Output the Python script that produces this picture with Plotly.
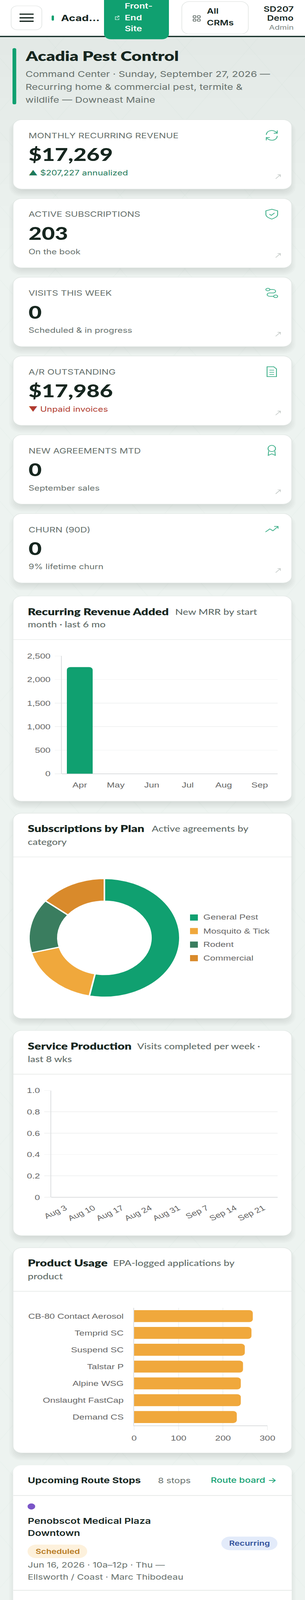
import plotly.graph_objects as go

W, H = 780, 5200

# ---------- data ----------
mrr_months = ["Apr", "May", "Jun", "Jul", "Aug", "Sep"]
mrr_values = [2265, 0, 0, 0, 0, 0]
plan_names = ["General Pest", "Mosquito & Tick", "Rodent", "Commercial"]
plan_counts = [108, 36, 30, 29]
plan_colors = ["#10a070", "#f0a83c", "#3a7d5f", "#d98a2b"]
week_labels = ["Aug 3", "Aug 10", "Aug 17", "Aug 24", "Aug 31", "Sep 7", "Sep 14", "Sep 21"]
week_values = [0, 0, 0, 0, 0, 0, 0, 0]
product_names = ["CB-80 Contact Aerosol", "Temprid SC", "Suspend SC", "Talstar P", "Alpine WSG", "Onslaught FastCap", "Demand CS"]
product_values = [267, 264, 249, 245, 240, 240, 231]
kpi_labels = ["MONTHLY RECURRING REVENUE", "ACTIVE SUBSCRIPTIONS", "VISITS THIS WEEK", "A/R OUTSTANDING", "NEW AGREEMENTS MTD", "CHURN (90D)"]
kpi_values = ["$17,269", "203", "0", "$17,986", "0", "0"]
kpi_notes = ["▲ $207,227 annualized", "On the book", "Scheduled & in progress", "▼ Unpaid invoices", "September sales", "9% lifetime churn"]
kpi_note_colors = ["#1f7a5a", "#66706c", "#66706c", "#b03a2e", "#66706c", "#66706c"]

# ---------- helpers ----------
BODY = "Inter, sans-serif"
HEAD = "Lato, sans-serif"
CHART = "Liberation Sans, Arial, sans-serif"
shapes, annos = [], []

def fx(x): return round(x / W, 6)
def fy(y): return round(1 - y / H, 6)

def path_of(cmds):
    out = []
    for c in cmds:
        if isinstance(c, str):
            out.append(c)
        else:
            out.append(f"{fx(c[0])},{fy(c[1])}")
    return " ".join(out)

def shape(cmds, fill=None, line=None, width=0, layer="below"):
    s = dict(type="path", path=path_of(cmds), xref="paper", yref="paper", layer=layer,
             line=dict(width=width, color=line or "rgba(0,0,0,0)"))
    if fill:
        s["fillcolor"] = fill
    shapes.append(s)

def rect(x0, y0, x1, y1, fill):
    shape(["M", (x0, y0), "L", (x1, y0), "L", (x1, y1), "L", (x0, y1), "Z"], fill)

def rrect(x0, y0, x1, y1, r, fill=None, line=None, width=0, layer="below"):
    k = 0.45 * r
    cmds = ["M", (x0 + r, y0), "L", (x1 - r, y0), "C", (x1 - k, y0), (x1, y0 + k), (x1, y0 + r),
            "L", (x1, y1 - r), "C", (x1, y1 - k), (x1 - k, y1), (x1 - r, y1),
            "L", (x0 + r, y1), "C", (x0 + k, y1), (x0, y1 - k), (x0, y1 - r),
            "L", (x0, y0 + r), "C", (x0, y0 + k), (x0 + k, y0), (x0 + r, y0), "Z"]
    shape(cmds, fill, line, width, layer)

def toprect(x0, y0, x1, y1, r, fill, line=None, width=0):
    k = 0.45 * r
    shape(["M", (x0, y1), "L", (x0, y0 + r), "C", (x0, y0 + k), (x0 + k, y0), (x0 + r, y0), "L", (x1 - r, y0),
           "C", (x1 - k, y0), (x1, y0 + k), (x1, y0 + r), "L", (x1, y1), "Z"], fill, line, width)

def seg(x0, y0, x1, y1, color, width=1, layer="below"):
    shape(["M", (x0, y0), "L", (x1, y1)], None, color, width, layer)

def txt(x, y, text, size, color, family=BODY, weight=400, anchor="left"):
    annos.append(dict(x=fx(x), y=fy(y), xref="paper", yref="paper", text=text, showarrow=False,
                      xanchor=anchor, yanchor="middle", borderpad=0, borderwidth=0,
                      font=dict(size=size, color=color, family=family, weight=weight)))

def card(x0, y0, x1, y1, r=22):
    for e in (-10, -6, -2, 2, 6, 10):
        rrect(x0 - e, y0 + 14 - e, x1 + e, y1 + 14 + e, r + max(e, 0), "rgba(40,70,60,0.018)")
    rrect(x0, y0, x1, y1, r, "#ffffff", "#dfe5e2", 1.5)

# ---------- page background band near the top ----------
for i in range(10):
    rect(0, 120, 780, 180 + i * 70, "rgba(30,110,85,0.005)")

# ---------- background lattice, clipped to the page ----------
LAT = "rgba(60,110,90,0.025)"
slope, step = 1.45, 240
c = 120 - 780 * slope
while c < H:
    xa = max(0.0, (120 - c) / slope)
    xb = min(780.0, (H - c) / slope)
    if xb > xa:
        seg(xa, c + slope * xa, xb, c + slope * xb, LAT, 1.5)
        seg(780 - xa, c + slope * xa, 780 - xb, c + slope * xb, LAT, 1.5)
    c += step

# ---------- header ----------
rect(0, 0, 780, 117, "#ffffff")
rect(0, 116.5, 780, 120.5, "#16302a")
rrect(28.5, 19, 107, 97, 16, "#ffffff", "#dfe3e1", 1.5)
for y in (46, 58, 69):
    seg(50, y, 86, y, "#16261f", 4)
rrect(132, 50, 138, 67, 3, "#10a070")
txt(156, 58, "Acad...", 28, "#16261f", BODY, 700)
shape(["M", (266, 0), "L", (432, 0), "L", (432, 110), "C", (432, 120), (424, 127.5), (414, 127.5),
       "L", (284, 127.5), "C", (274, 127.5), (266, 120), (266, 110), "Z"], "#10a070")
txt(319, 19, "Front-", 24, "#ffffff", BODY, 600)
txt(319, 57, "End", 24, "#ffffff", BODY, 600)
txt(319, 93, "Site", 24, "#ffffff", BODY, 600)
shape(["M", (300, 54), "L", (295, 54), "L", (295, 64), "L", (304, 64), "L", (304, 59)], None, "#d8f2e8", 1.5)
shape(["M", (299, 59), "L", (304, 52), "M", (300, 52), "L", (304.5, 52), "L", (304.5, 56)], None, "#d8f2e8", 1.5)
rrect(465, 5, 635, 111, 20, "#ffffff", "#dfe3e1", 1.5)
for gx in (494, 505):
    for gy in (51, 62):
        rrect(gx, gy, gx + 7, gy + 7, 1.5, None, "#3a4843", 1.6)
txt(529, 37, "All", 24, "#16261f", BODY, 600)
txt(529, 75, "CRMs", 24, "#16261f", BODY, 600)
txt(751, 29, "SD207", 24, "#16261f", BODY, 600, "right")
txt(751, 59, "Demo", 24, "#16261f", BODY, 600, "right")
txt(751, 88.5, "Admin", 21, "#7a8480", BODY, 400, "right")

# ---------- page title ----------
rrect(32, 156.5, 41.5, 339, 4, "#10a070")
txt(65, 181, "Acadia Pest Control", 44, "#16261f", HEAD, 800)
txt(65, 240, "Command Center · Sunday, September 27, 2026 —", 26, "#66706c")
txt(65, 282, "Recurring home & commercial pest, termite &", 26, "#66706c")
txt(65, 324, "wildlife — Downeast Maine", 26, "#66706c")

# ---------- KPI cards ----------
ICON = "#3fb08a"
def icon(i, cx, cy):
    if i == 0:  # refresh
        shape(["M", (cx - 14, cy - 2), "C", (cx - 13, cy - 18), (cx + 6, cy - 20), (cx + 13, cy - 8)], None, ICON, 2.2)
        shape(["M", (cx + 14, cy - 16), "L", (cx + 14, cy - 7), "L", (cx + 5, cy - 7)], None, ICON, 2.2)
        shape(["M", (cx + 14, cy + 2), "C", (cx + 13, cy + 18), (cx - 6, cy + 20), (cx - 13, cy + 8)], None, ICON, 2.2)
        shape(["M", (cx - 14, cy + 16), "L", (cx - 14, cy + 7), "L", (cx - 5, cy + 7)], None, ICON, 2.2)
    elif i == 1:  # shield
        shape(["M", (cx, cy - 16), "L", (cx + 15, cy - 11), "L", (cx + 15, cy + 1), "C", (cx + 15, cy + 9), (cx + 6, cy + 13), (cx, cy + 16),
               "C", (cx - 6, cy + 13), (cx - 15, cy + 9), (cx - 15, cy + 1), "L", (cx - 15, cy - 11), "Z"], None, ICON, 2.2)
        shape(["M", (cx - 6, cy), "L", (cx - 1, cy + 4), "L", (cx + 7, cy - 4)], None, ICON, 2.2)
    elif i == 2:  # route
        rrect(cx - 15, cy - 15, cx - 5, cy - 7, 4, None, ICON, 2.2)
        rrect(cx + 5, cy + 7, cx + 15, cy + 15, 4, None, ICON, 2.2)
        shape(["M", (cx - 5, cy - 11), "L", (cx + 3, cy - 11), "C", (cx + 12, cy - 11), (cx + 12, cy), (cx + 3, cy),
               "L", (cx - 5, cy), "C", (cx - 14, cy), (cx - 14, cy + 11), (cx - 5, cy + 11), "L", (cx + 5, cy + 11)], None, ICON, 2.2)
    elif i == 3:  # document
        shape(["M", (cx - 12, cy - 16), "L", (cx + 5, cy - 16), "L", (cx + 12, cy - 9), "L", (cx + 12, cy + 16), "L", (cx - 12, cy + 16), "Z"], None, ICON, 2.2)
        for dy in (-5, 2, 9):
            seg(cx - 6, cy + dy, cx + 6, cy + dy, ICON, 2)
    elif i == 4:  # award
        r = 9.5
        shape(["M", (cx - r, cy - 6), "C", (cx - r, cy - 20), (cx + r, cy - 20), (cx + r, cy - 6),
               "C", (cx + r, cy + 7), (cx - r, cy + 7), (cx - r, cy - 6), "Z"], None, ICON, 2.2)
        shape(["M", (cx - 8, cy + 2), "L", (cx - 9, cy + 16), "L", (cx, cy + 11), "L", (cx + 9, cy + 16), "L", (cx + 8, cy + 2)], None, ICON, 2.2)
    else:  # trend
        shape(["M", (cx - 16, cy + 9), "L", (cx - 5, cy - 1), "L", (cx + 3, cy + 5), "L", (cx + 16, cy - 9)], None, ICON, 2.2)
        shape(["M", (cx + 6, cy - 9), "L", (cx + 16, cy - 9), "L", (cx + 16, cy - 2)], None, ICON, 2.2)

for i, top in enumerate([389, 645, 901, 1157, 1413, 1669]):
    card(33.5, top, 746, top + 225.5)
    txt(73, top + 52, kpi_labels[i], 24, "#66706c", BODY, 400)
    txt(73, top + 112, kpi_values[i], 58, "#16261f", HEAD, 900)
    txt(73, top + 173, kpi_notes[i], 23, kpi_note_colors[i], BODY, 400)
    icon(i, 695, top + 51)
    ax, ay = 711, top + 185
    seg(ax - 6, ay + 7, ax + 6, ay - 6, "#b9c0bd", 1.5)
    shape(["M", (ax - 1, ay - 6), "L", (ax + 6, ay - 6), "L", (ax + 6, ay + 1)], None, "#b9c0bd", 1.5)

# ---------- chart cards ----------
TITLE_C, SUB_C = "#16261f", "#5f6b67"
def chart_card(top, bottom, divider, l1y, l2y, title, sub1, subx, sub2):
    card(33.5, top, 746, bottom)
    seg(34, divider, 746, divider, "#dfe3e1", 1.5)
    txt(71, l1y, title, 31, TITLE_C, HEAD, 800)
    txt(subx, l1y + 1, sub1, 26, SUB_C, HEAD, 500)
    txt(71, l2y, sub2, 26, SUB_C, HEAD, 500)

chart_card(1937, 2604, 2078.5, 1987, 2029, "Recurring Revenue Added", "New MRR by start", 448, "month · last 6 mo")
chart_card(2643, 3310, 2785, 2692, 2736, "Subscriptions by Plan", "Active agreements by", 388, "category")
chart_card(3349, 4016, 3491, 3398.5, 3442, "Service Production", "Visits completed per week ·", 351, "last 8 wks")
chart_card(4055, 4722, 4196.5, 4104, 4148, "Product Usage", "EPA-logged applications by", 289, "product")

# ---------- bottom list card ----------
for e in (-10, -6, -2, 2, 6, 10):
    toprect(33.5 - e, 4776 - e, 746 + e, 5200, 22 + max(e, 0), "rgba(40,70,60,0.018)")
toprect(33.5, 4762, 746, 5200, 22, "#ffffff")
seg(34, 4860.5, 746, 4860.5, "#dfe3e1", 2)
seg(34, 5168.5, 746, 5168.5, "#dfe3e1", 2)
txt(71, 4811, "Upcoming Route Stops", 26, TITLE_C, BODY, 700)
txt(404, 4812, "8 stops", 24, "#66706c", BODY, 400)
txt(708.5, 4810, "Route board →", 24, "#10a070", BODY, 500, "right")
shapes.append(dict(type="circle", xref="paper", yref="paper", x0=fx(70.5), x1=fx(90), y0=fy(4906), y1=fy(4886),
                   fillcolor="#7a55c7", line=dict(width=0), layer="below"))
txt(71, 4943, "Penobscot Medical Plaza", 26, "#16261f", BODY, 600)
txt(71, 4983, "Downtown", 26, "#16261f", BODY, 600)
rrect(70.5, 5020, 223, 5064, 22, "#fdf1dc")
txt(147, 5042, "Scheduled", 22, "#b7791f", BODY, 600, "center")
rrect(566, 4994, 709.5, 5038, 22, "#e3ebfa")
txt(638, 5016, "Recurring", 22, "#2f4f9b", BODY, 600, "center")
txt(71, 5087, "Jun 16, 2026 · 10a–12p · Thu —", 24, "#66706c")
txt(71, 5125, "Ellsworth / Coast · Marc Thibodeau", 24, "#66706c")

# ---------- legend for the donut ----------
for name, color, y in zip(plan_names, plan_colors, (2982, 3026, 3070, 3114)):
    rect(486, y - 10, 506, y + 10, color)
    txt(520, y - 1, name, 24, "#666666", CHART)

# ---------- traces ----------
fig = go.Figure()
GRID = "#f1f2f2"
AXIS = "#dcdee0"
tickfont = dict(family=CHART, size=24, color="#666666")

def dom_x(a, b): return [a / W, b / W]
def dom_y(top, bottom): return [1 - bottom / H, 1 - top / H]

fig.add_trace(go.Bar(x=mrr_months, y=mrr_values, marker=dict(color="#10a070", line=dict(width=0)),
                     xaxis="x", yaxis="y", width=0.717, showlegend=False))
fig.add_trace(go.Pie(labels=plan_names, values=plan_counts, hole=0.617, sort=False, direction="clockwise",
                     rotation=0, textinfo="none", showlegend=False,
                     marker=dict(colors=plan_colors, line=dict(color="#ffffff", width=4)),
                     domain=dict(x=dom_x(74, 460), y=dom_y(2855, 3241))))
fig.add_trace(go.Bar(x=week_labels, y=week_values, marker=dict(color="#10a070", line=dict(width=0)),
                     xaxis="x2", yaxis="y2", showlegend=False))
fig.add_trace(go.Bar(x=product_values, y=product_names, orientation="h",
                     marker=dict(color="#f0a83c", line=dict(width=0)),
                     xaxis="x3", yaxis="y3", width=0.71, showlegend=False))

fig.update_layout(
    template="none",
    width=W, height=H, margin=dict(l=0, r=0, t=0, b=0, pad=0), autosize=False,
    paper_bgcolor="#edf3f0", plot_bgcolor="rgba(0,0,0,0)",
    barcornerradius=9, shapes=shapes, annotations=annos, showlegend=False,
    hovermode=False,
    xaxis=dict(domain=dom_x(158, 710), anchor="y", type="category", showgrid=False, zeroline=False, ticks="",
               tickfont=tickfont, showline=False, ticklabelstandoff=20, fixedrange=True, automargin=False),
    yaxis=dict(domain=dom_y(2132, 2514.6), anchor="x", range=[0, 2500], tickmode="array",
               tickvals=[0, 500, 1000, 1500, 2000, 2500], ticktext=["0", "500", "1,000", "1,500", "2,000", "2,500"],
               gridcolor=GRID, gridwidth=2, zeroline=True, zerolinecolor=AXIS, zerolinewidth=2,
               showline=True, linecolor=AXIS, linewidth=2, ticks="outside", ticklen=16, tickcolor=GRID, tickwidth=2,
               tickfont=tickfont, ticklabelstandoff=6, fixedrange=True, automargin=False),
    xaxis2=dict(domain=dom_x(131, 710), anchor="y2", type="category", showgrid=False, zeroline=False, ticks="",
                tickfont=tickfont, tickangle=-30, showline=False, ticklabelstandoff=16, fixedrange=True, automargin=False),
    yaxis2=dict(domain=dom_y(3544, 3891), anchor="x2", range=[0, 1], tickmode="array",
                tickvals=[0, 0.2, 0.4, 0.6, 0.8, 1.0], ticktext=["0", "0.2", "0.4", "0.6", "0.8", "1.0"],
                gridcolor=GRID, gridwidth=2, zeroline=True, zerolinecolor=AXIS, zerolinewidth=2,
                showline=True, linecolor=AXIS, linewidth=2, ticks="outside", ticklen=16, tickcolor=GRID, tickwidth=2,
                tickfont=tickfont, ticklabelstandoff=6, fixedrange=True, automargin=False),
    xaxis3=dict(domain=dom_x(343, 684), anchor="y3", range=[0, 300], tickmode="array", tickvals=[0, 100, 200, 300],
                gridcolor=GRID, gridwidth=2, zeroline=False, showline=True, linecolor=AXIS, linewidth=2,
                ticks="outside", ticklen=13, tickcolor=GRID, tickwidth=2, tickfont=tickfont, ticklabelstandoff=6,
                fixedrange=True, automargin=False),
    yaxis3=dict(domain=dom_y(4250, 4632.7), anchor="x3", type="category", autorange="reversed", showgrid=False,
                zeroline=False, showline=True, linecolor=AXIS, linewidth=2, ticks="", tickfont=tickfont,
                ticklabelstandoff=20, fixedrange=True, automargin=False),
)

# The figure keeps its 780x5200 layout; if the browser's window is shorter than 5200,
# it is fitted to the window height so that nothing falls off the page.
fit_js = """
document.body.style.margin='0';
document.documentElement.style.margin='0';
document.documentElement.style.overflow='hidden';
var s=Math.min(1,window.innerHeight/5200);
if(s<1){var g=document.querySelector('.plotly-graph-div');
g.style.transformOrigin='0 0';g.style.transform='scaleY('+s+')';}
"""
fig.write_html("out.html", post_script=fit_js, config=dict(displayModeBar=False))
